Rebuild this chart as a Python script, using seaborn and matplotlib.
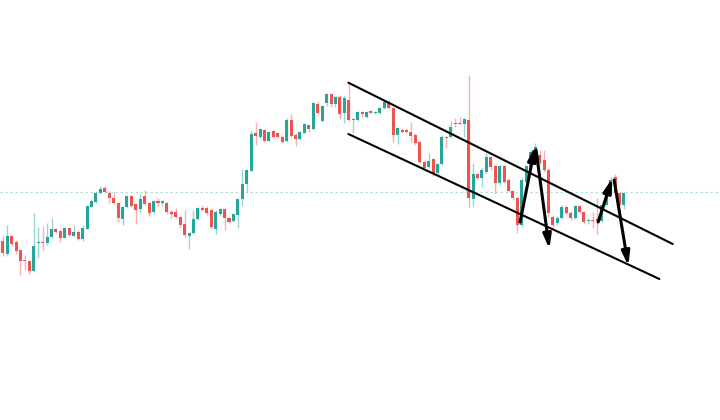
import numpy as np
import pandas as pd
import matplotlib.pyplot as plt
import seaborn as sns

# -------------------------------
# Candle data
# -------------------------------

opens = [179, 166, 184, 178, 170, 160, 159, 149, 177, 178,
         177, 183, 191, 189, 182, 192, 184, 188, 181, 191,
         213, 218, 227, 232, 227, 222, 217, 201, 213, 224,
         216, 211, 224, 217, 208, 219, 217, 217, 208, 208,
         203, 196, 184, 187, 201, 212, 212, 210, 191, 206,
         211, 202, 199, 205, 221, 236, 249, 287, 283, 290,
         279, 289, 287, 283, 279, 300, 285, 281, 287, 295,
         291, 316, 299, 317, 326, 316, 323, 307, 320, 300,
         300, 308, 303, 309, 307, 307, 312, 318, 312, 285,
         290, 290, 288, 285, 278, 258, 253, 261, 247, 256,
         283, 283, 297, 297, 296, 300, 221, 246, 242, 248,
         263, 254, 237, 254, 240, 229, 222, 195, 238, 253,
         267, 265, 260, 250, 203, 197, 202, 213, 207, 202,
         214, 208, 199, 200, 201, 199, 215, 229, 243, 227,
         215]
highs = [185, 195, 185, 180, 171, 165, 160, 207, 193, 194,
         197, 202, 192, 190, 193, 193, 195, 190, 195, 215,
         221, 228, 234, 234, 229, 228, 218, 214, 225, 225,
         217, 226, 230, 218, 220, 222, 220, 218, 210, 212,
         204, 210, 188, 210, 213, 215, 214, 212, 210, 212,
         212, 203, 207, 222, 251, 251, 290, 298, 292, 291,
         289, 290, 288, 285, 302, 306, 287, 289, 297, 296,
         318, 318, 315, 327, 327, 324, 325, 325, 337, 302,
         309, 309, 309, 310, 309, 313, 319, 320, 313, 293,
         292, 291, 298, 287, 279, 259, 267, 262, 257, 285,
         284, 299, 302, 303, 302, 345, 257, 247, 253, 267,
         264, 255, 255, 255, 242, 230, 223, 242, 255, 270,
         277, 270, 270, 252, 205, 204, 215, 215, 209, 215,
         215, 209, 202, 208, 222, 216, 230, 243, 246, 228,
         228]
lows = [164, 164, 174, 166, 145, 150, 146, 148, 162, 170,
        175, 182, 187, 178, 182, 184, 184, 180, 179, 191,
        213, 217, 226, 227, 217, 216, 198, 195, 212, 213,
        196, 207, 215, 204, 207, 214, 214, 206, 202, 202,
        193, 183, 171, 186, 200, 209, 205, 192, 186, 205,
        190, 197, 198, 192, 214, 229, 249, 275, 282, 278,
        278, 282, 282, 277, 278, 283, 274, 280, 287, 288,
        290, 306, 298, 314, 313, 313, 301, 297, 299, 287,
        299, 303, 302, 306, 306, 306, 311, 311, 278, 276,
        287, 287, 278, 275, 257, 251, 252, 244, 244, 255,
        272, 282, 293, 295, 283, 213, 213, 240, 233, 247,
        250, 227, 235, 237, 228, 220, 187, 193, 237, 252,
        265, 255, 248, 203, 193, 195, 201, 206, 200, 201,
        207, 196, 196, 192, 186, 198, 214, 228, 225, 213,
        211]
closes = [167, 184, 176, 169, 159, 159, 149, 174, 178, 177,
          183, 191, 188, 182, 192, 185, 188, 181, 192, 214,
          219, 227, 231, 228, 222, 217, 202, 213, 224, 214,
          210, 221, 216, 207, 219, 217, 219, 208, 206, 203,
          195, 185, 187, 201, 212, 210, 207, 193, 208, 211,
          202, 198, 206, 221, 236, 250, 286, 284, 291, 279,
          288, 283, 283, 278, 300, 284, 281, 288, 296, 291,
          317, 307, 314, 326, 316, 323, 306, 322, 300, 301,
          308, 306, 308, 307, 308, 312, 318, 312, 285, 292,
          288, 288, 284, 277, 258, 252, 259, 247, 256, 283,
          282, 293, 296, 296, 301, 222, 246, 242, 250, 263,
          253, 237, 254, 238, 229, 222, 195, 240, 254, 268,
          273, 257, 250, 207, 195, 202, 213, 207, 202, 214,
          208, 198, 200, 199, 199, 215, 229, 240, 227, 215,
          227]

# Resistance level and channel lines (candle index, price)
level_price = 228
upper_x = [77.9, 151.0]
upper_y = [337.3, 176.0]
lower_x = [77.9, 148.0]
lower_y = [286.0, 141.0]

# Arrows: (start_x, start_y, end_x, end_y)
arrows = [
    (116.6, 198, 120.0, 274),
    (120.2, 270, 123.2, 171),
    (134.2, 198, 137.4, 242),
    (137.8, 240, 141.0, 154),
]

df = pd.DataFrame({"open": opens, "high": highs, "low": lows, "close": closes})
df["idx"] = np.arange(len(df))
df["up"] = df["close"] >= df["open"]

GREEN = "#26a69a"
RED = "#ef5350"

# -------------------------------
# Plot
# -------------------------------

sns.set_theme(style="white")
fig = plt.figure(figsize=(7.2, 4.2), dpi=100)
ax = fig.add_axes([0, 0, 1, 1])

ax.axhline(level_price, color="#b2dfdb", lw=0.9, ls=(0, (2, 2)), zorder=1)

for up, color in [(True, GREEN), (False, RED)]:
    d = df[df["up"] == up]
    ax.vlines(d["idx"], d["low"], d["high"], color=color, alpha=0.45, lw=1.0, zorder=2)
    body_bottom = np.minimum(d["open"], d["close"])
    body_height = np.maximum(np.abs(d["close"] - d["open"]), 1.0)
    ax.bar(d["idx"], body_height, bottom=body_bottom, width=0.68,
           color=color, edgecolor=color, linewidth=0, zorder=3)

ax.plot(upper_x, upper_y, color="black", lw=1.5, zorder=4)
ax.plot(lower_x, lower_y, color="black", lw=1.5, zorder=4)

for x0, y0, x1, y1 in arrows:
    ax.annotate("", xy=(x1, y1), xytext=(x0, y0),
                arrowprops=dict(arrowstyle="-|>,head_length=0.7,head_width=0.2",
                                color="black", lw=2.2, shrinkA=0, shrinkB=0),
                zorder=5)

ax.set_xlim(-0.61, 161.66)
ax.set_ylim(0, 420)
ax.axis("off")

plt.savefig("out.png", dpi=100)
plt.close()
